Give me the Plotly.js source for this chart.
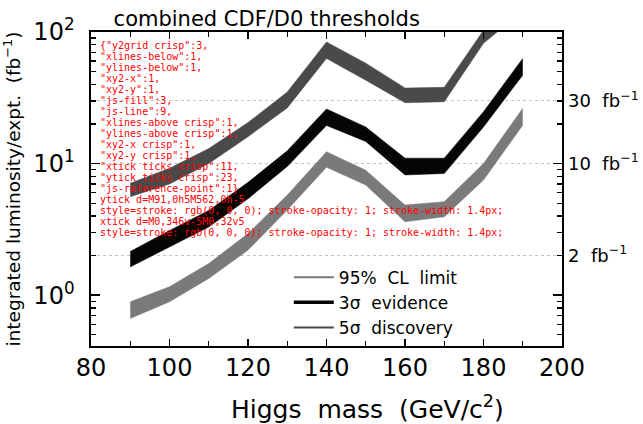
<!DOCTYPE html>
<html>
<head>
<meta charset="utf-8">
<script src="https://cdn.plot.ly/plotly-3.0.1.min.js"></script>
<style>html,body{margin:0;padding:0;background:#fff;}#chart{width:643px;height:424px;}#dbg{position:absolute;left:100px;top:40px;font:10px monospace;color:red;white-space:pre;}</style>
</head>
<body>
<div id="chart"></div>
<div id="dbg"></div>
<script>
var mass = [90, 100, 110, 120, 130, 140, 150, 160, 170, 180, 190];
var discoveryUpper = [7.1, 9.2, 13.0, 20.5, 35.0, 84.0, 58.0, 37.5, 38.0, 103.0, 180.0];
var discoveryLower = [5.6, 7.0, 10.0, 16.0, 26.5, 63.0, 43.0, 29.0, 29.5, 82.0, 145.0];
var evidenceUpper = [2.15, 3.1, 4.4, 7.2, 12.5, 26.0, 19.0, 11.0, 11.0, 24.8, 63.0];
var evidenceLower = [1.64, 2.33, 3.3, 5.4, 9.5, 19.5, 14.7, 8.2, 8.4, 19.0, 47.0];
var limitUpper = [0.89, 1.16, 1.74, 2.94, 5.76, 12.3, 8.9, 4.84, 5.13, 10.0, 26.3];
var limitLower = [0.665, 0.89, 1.34, 2.2, 4.43, 9.4, 6.87, 3.61, 3.94, 7.5, 19.6];
var xTickVals = [80, 100, 120, 140, 160, 180, 200];
var xMinorVals = [90, 110, 130, 150, 170, 190];
var yTickVals = [1, 10, 100];
var yTickText = ['10<sup>0</sup>', '10<sup>1</sup>', '10<sup>2</sup>'];
var rightTickVals = [2, 10, 30];
var rightTickText = ['2\u00a0\u00a0fb<sup>\u22121</sup>', '10\u00a0\u00a0fb<sup>\u22121</sup>', '30\u00a0\u00a0fb<sup>\u22121</sup>'];
var legendNames = ['95%\u00a0 CL\u00a0 limit', '3\u03c3\u00a0 evidence', '5\u03c3\u00a0 discovery'];
var yMinor = [];
[0.1, 1, 10].forEach(function (d) { for (var k = 2; k <= 9; k++) { yMinor.push(k * d); } });
var FONT = 'DejaVu Sans';
var colDisc = '#4a4a4a', colEvid = '#050505', colLim = '#7a7a7a';
function band(lower, upper, color) {
  return [
    {x: mass, y: lower, type: 'scatter', mode: 'lines', line: {color: color, width: 0.5}, showlegend: false, hoverinfo: 'skip'},
    {x: mass, y: upper, type: 'scatter', mode: 'lines', line: {color: color, width: 0.5}, fill: 'tonexty', fillcolor: color, showlegend: false, hoverinfo: 'skip'}
  ];
}
var traces = [].concat(band(discoveryLower, discoveryUpper, colDisc), band(evidenceLower, evidenceUpper, colEvid), band(limitLower, limitUpper, colLim));
traces.push({x: [null], y: [null], type: 'scatter', mode: 'lines', name: legendNames[0], line: {color: colLim, width: 2}});
traces.push({x: [null], y: [null], type: 'scatter', mode: 'lines', name: legendNames[1], line: {color: colEvid, width: 3.5}});
traces.push({x: [null], y: [null], type: 'scatter', mode: 'lines', name: legendNames[2], line: {color: colDisc, width: 2}});
traces.push({x: [null], y: [null], type: 'scatter', mode: 'lines', yaxis: 'y2', showlegend: false, hoverinfo: 'skip'});
var yRange = [Math.log10(0.411), 2];
var layout = {
  width: 643, height: 424, margin: {l: 91, r: 81, t: 32, b: 78, pad: 0},
  font: {family: FONT, color: '#000'}, showlegend: true,
  title: {text: 'combined CDF/D0 thresholds', font: {family: FONT, size: 21, color: '#000'}, xref: 'paper', x: 0.048, xanchor: 'left', yref: 'container', y: 0.957, yanchor: 'middle'},
  xaxis: {range: [80, 200], tickmode: 'array', tickvals: xTickVals, layer: 'above traces',
    ticks: 'inside', ticklen: 7, tickwidth: 1.6, tickcolor: '#000',
    minor: {tickmode: 'array', tickvals: xMinorVals, ticks: 'inside', ticklen: 5, tickwidth: 1.4, tickcolor: '#000'},
    showline: true, linewidth: 1.6, linecolor: '#000', mirror: 'ticks', showgrid: false, zeroline: false,
    tickfont: {family: FONT, size: 24, color: '#000'}},
  yaxis: {type: 'log', range: yRange, tickmode: 'array', tickvals: yTickVals, ticktext: yTickText, layer: 'above traces',
    ticks: 'inside', ticklen: 9, tickwidth: 1.6, tickcolor: '#000',
    minor: {tickmode: 'array', tickvals: yMinor, ticks: 'inside', ticklen: 5, tickwidth: 1.4, tickcolor: '#000'},
    showline: true, linewidth: 1.6, linecolor: '#000', mirror: 'ticks', showgrid: false, zeroline: false, ticklabelstandoff: 10,
    tickfont: {family: FONT, size: 24, color: '#000'},
    title: {text: 'integrated luminosity/expt.  (fb<sup>\u22121</sup>)', font: {family: FONT, size: 18.5, color: '#000'}, standoff: 9}},
  yaxis2: {type: 'log', range: yRange, overlaying: 'y', side: 'right', tickmode: 'array', tickvals: rightTickVals, ticktext: rightTickText,
    ticks: '', showline: false, zeroline: false, showgrid: true, griddash: 'dot', gridcolor: '#c4c4c4', gridwidth: 1, ticklabelstandoff: 5,
    tickfont: {family: FONT, size: 18, color: '#000'}},
  legend: {x: 0.42, xanchor: 'left', y: 0.275, yanchor: 'top', bgcolor: 'rgba(0,0,0,0)', traceorder: 'normal', font: {family: FONT, size: 17, color: '#000'}, tracegroupgap: 0, itemwidth: 40},
  annotations: [{text: 'Higgs\u00a0 mass\u00a0 (GeV/c<sup>2</sup>)', xref: 'paper', yref: 'paper', x: 0.586, y: -0.197, xanchor: 'center', yanchor: 'middle', showarrow: false, font: {family: FONT, size: 25, color: '#000'}}]
};
Plotly.newPlot('chart', traces, layout, {staticPlot: true, displayModeBar: false}).then(function () {
  var s = '';
  var cls = {};
  document.querySelectorAll('path').forEach(function (e) { var c = e.getAttribute('class') || '-'; cls[c] = (cls[c] || 0) + 1; });
  s += JSON.stringify(cls).replace(/,/g, ',\n') + '\n';
  var p = document.querySelector('path.ytick');
  if (p) s += 'ytick d=' + (p.getAttribute('d') || '').slice(0, 60) + '\nstyle=' + (p.getAttribute('style') || '').slice(0, 90) + '\n';
  var q = document.querySelector('path.xtick');
  if (q) s += 'xtick d=' + (q.getAttribute('d') || '').slice(0, 60) + '\nstyle=' + (q.getAttribute('style') || '').slice(0, 90) + '\n';
  document.getElementById('dbg').textContent = s;
});
</script>
</body>
</html>
